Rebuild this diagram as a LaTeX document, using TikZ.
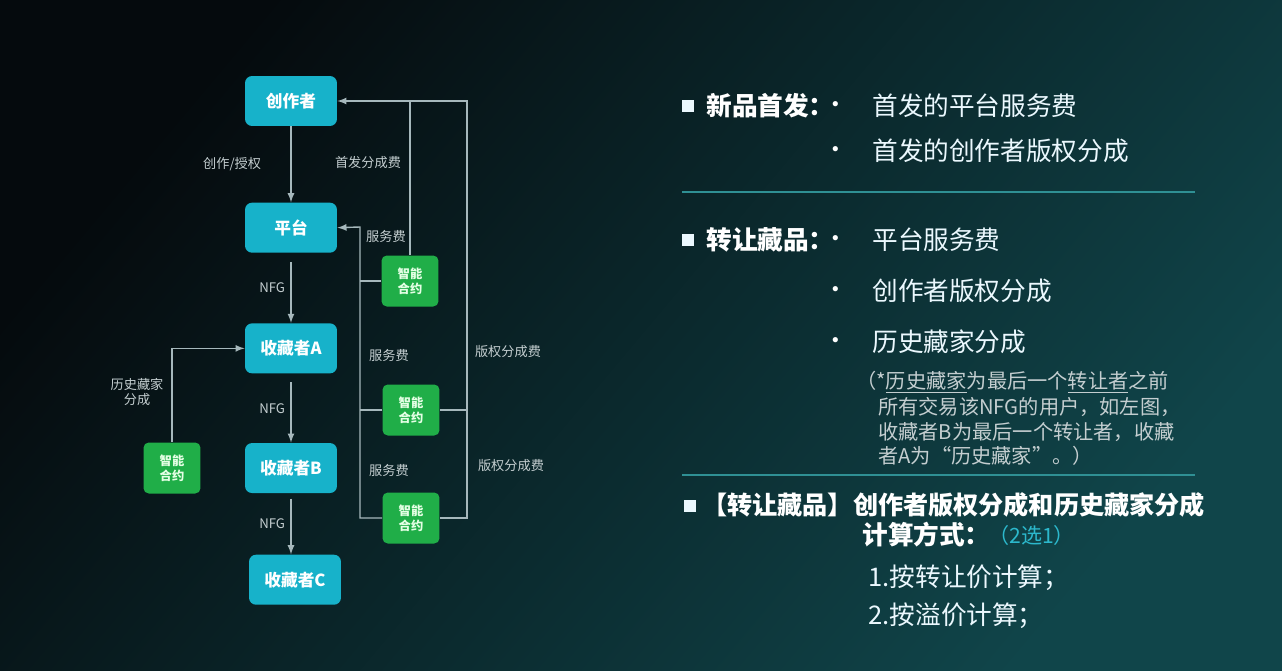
\documentclass[tikz,border=0pt]{standalone}
\usepackage{fontspec}
\setmainfont{Noto Sans CJK SC}
\usetikzlibrary{arrows,positioning}

\definecolor{bgdark}{HTML}{050A0D}
\definecolor{bgteal}{HTML}{10454A}
\definecolor{boxcyan}{HTML}{17B2CA}
\definecolor{boxgreen}{HTML}{20AE48}
\definecolor{wire}{HTML}{A6B8BC}
\definecolor{rulecol}{HTML}{2F9094}
\definecolor{notecol}{HTML}{C4CED0}
\definecolor{picktxt}{HTML}{2CB8CC}

\tikzset{
  bluebox/.style={fill=boxcyan, rounded corners=4pt, minimum width=1.84cm,
    minimum height=1cm, text=white, font=\fontsize{9.5}{11}\selectfont\bfseries},
  greenbox/.style={fill=boxgreen, rounded corners=3pt, minimum width=1.14cm,
    minimum height=1.02cm, inner sep=1pt, text=green!10!white, align=center,
    font=\fontsize{7}{8.5}\selectfont\bfseries},
  wireline/.style={draw=wire, line width=0.8pt},
  wirelab/.style={text=notecol, font=\fontsize{7.5}{9}\selectfont, inner sep=1pt},
  sq/.style={fill=white!92!cyan, minimum size=0.24cm, inner sep=0pt},
  headtxt/.style={anchor=west, inner sep=0pt, text=white,
    font=\fontsize{14.6}{18}\selectfont\bfseries},
  dottxt/.style={inner sep=0pt, text=white, font=\fontsize{14}{17}\selectfont},
  itemtxt/.style={anchor=west, inner sep=0pt, text=white!92!cyan,
    font=\fontsize{14.6}{17}\selectfont},
  notetxt/.style={anchor=west, inner sep=0pt, text=notecol,
    font=\fontsize{11.5}{13}\selectfont},
  sepline/.style={draw=rulecol, line width=0.7pt}
}

\begin{document}
\begin{tikzpicture}[x=0.02cm,y=-0.02cm,>=latex]
        \shade[top color=bgdark, bottom color=bgteal, shading angle=50] (0,0) rectangle (1282,670);
        \useasboundingbox (0,0) rectangle (1282,670);

        % flow chain
        \node[bluebox] (creator) at (291,101) {创作者};
        \node[bluebox, below = 1.52cm of creator] (platform) {平台};
        \node[bluebox, below = 1.4cm of platform] (collA) {收藏者A};
        \node[bluebox, below = 1.38cm of collA] (collB) {收藏者B};
        \node[bluebox, below = 1.22cm of collB, xshift=0.08cm] (collC) {收藏者C};

        % smart contracts
        \node[greenbox] (scone) at (410,281) {智能\\合约};
        \node[greenbox] (sctwo) at (411,410) {智能\\合约};
        \node[greenbox] (scthree) at (411,518) {智能\\合约};
        \node[greenbox] (schist) at (172,468) {智能\\合约};
        \coordinate (ltop) at (360,227);
        \coordinate (rtop) at (467,101);

        \draw[wireline,->] (creator) -- node[wirelab, left=0.55cm] {创作/授权} (platform);
        \draw[wireline,->,shorten <=5pt] (platform) -- node[wirelab, left=2pt] {NFG} (collA);
        \draw[wireline,->,shorten <=5pt] (collA) -- node[wirelab, left=2pt] {NFG} (collB);
        \draw[wireline,->,shorten <=3pt] (collB.south) -- node[wirelab, left=2pt] {NFG} (collB.south |- collC.north);

        \draw[wireline,->] (scone.north) |- (creator.east);
        \draw[wireline] (scthree.east) -| (rtop) -| (scone.north);
        \draw[wireline] (sctwo.east) -- (sctwo.east -| rtop);
        \draw[wireline,->] (scthree.west) -| (ltop) -- (platform.east);
        \draw[wireline] (scone.west) -- (scone.west -| ltop);
        \draw[wireline] (sctwo.west) -- (sctwo.west -| ltop);
        \draw[wireline,->] (schist.north) |- (collA.west);

        \node[wirelab] (firstfee) at (368,163) {首发分成费};
        \node[wirelab] (servone) at (386,236) {服务费};
        \node[wirelab] (servtwo) at (389,355) {服务费};
        \node[wirelab] (servthree) at (389,470) {服务费};
        \node[wirelab] (rightone) at (508,352) {版权分成费};
        \node[wirelab] (righttwo) at (511,466) {版权分成费};
        \node[wirelab, align=center] (histlab) at (137,392) {历史藏家\\分成};

        % right-hand text
        \node[sq] (sqone) at (688,106) {};
        \node[headtxt] (hdone) at (706,106) {新品首发：};
        \node[dottxt] (dotone) at (836,108) {•};
        \node[itemtxt] (itone) at (872,106) {首发的平台服务费};
        \node[dottxt] (dottwo) at (836,153) {•};
        \node[itemtxt] (ittwo) at (872,151) {首发的创作者版权分成};
        \draw[sepline] (682,192) -- (1195,192);

        \node[sq] (sqtwo) at (688,240) {};
        \node[headtxt] (hdtwo) at (706,240) {转让藏品：};
        \node[dottxt] (dotthree) at (836,242) {•};
        \node[itemtxt] (itthree) at (872,240) {平台服务费};
        \node[dottxt] (dotfour) at (836,293) {•};
        \node[itemtxt] (itfour) at (872,291) {创作者版权分成};
        \node[dottxt] (dotfive) at (836,344) {•};
        \node[itemtxt] (itfive) at (872,342) {历史藏家分成};

        \node[notetxt] (noteone) at (856,382) {（*\underline{历史藏家}为最后一个\underline{转让者}之前};
        \node[notetxt] (notetwo) at (878,407) {所有交易该NFG的用户，如左图，};
        \node[notetxt] (notethree) at (878,432) {收藏者B为最后一个转让者，收藏};
        \node[notetxt] (notefour) at (878,456) {者A为“历史藏家”。）};
        \draw[sepline] (682,475) -- (1195,475);

        \node[sq] (sqthree) at (690,506) {};
        \node[headtxt, font=\fontsize{14.3}{17}\selectfont\bfseries] (hdthree) at (702,505) {【转让藏品】创作者版权分成和历史藏家分成};
        \node[headtxt] (hdfour) at (862,535) {计算方式：};
        \node[itemtxt, text=picktxt, font=\fontsize{12}{14}\selectfont] (pick) at (988,535) {（2选1）};
        \node[itemtxt] (wayone) at (868,578) {1.按转让价计算；};
        \node[itemtxt] (waytwo) at (868,616) {2.按溢价计算；};
      \end{tikzpicture}
\end{document}
